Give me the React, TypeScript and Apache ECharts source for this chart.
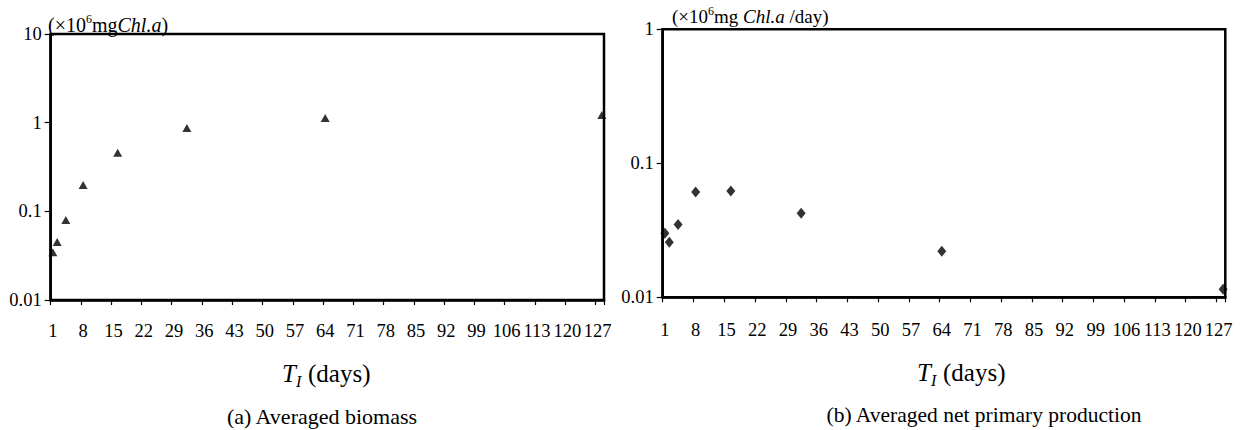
import React, { useEffect, useRef } from "react";
import * as echarts from "echarts";

// category labels 1..128 (days)
const categories: string[] = Array.from({ length: 128 }, (_, i) => String(i + 1));
const days: string[] = ["1", "2", "4", "8", "16", "32", "64", "128"];
const biomass: number[] = [0.0345, 0.045, 0.08, 0.198, 0.458, 0.87, 1.13, 1.22];
const npp: number[] = [0.030, 0.0257, 0.035, 0.061, 0.062, 0.0424, 0.0221, 0.0115];

const FONT = "Liberation Serif";

const logFmt = (v: number) => {
  const n = Math.round(Math.log10(v));
  return n >= 0 ? String(Math.pow(10, n)) : "0." + "0".repeat(-n - 1) + "1";
};

function xAxisCfg(gridIndex: number, margin: number) {
  return {
    type: "category",
    gridIndex,
    data: categories,
    boundaryGap: true,
    axisLine: { show: true, lineStyle: { color: "#000", width: 2.5 } },
    axisTick: { show: true, interval: 6, length: 5, lineStyle: { color: "#000", width: 1.2 } },
    axisLabel: {
      interval: 6,
      margin,
      color: "#000",
      fontFamily: FONT,
      fontSize: 18.5,
    },
    splitLine: { show: false },
  };
}

function yAxisCfg(gridIndex: number, max: number) {
  return {
    type: "log",
    logBase: 10,
    gridIndex,
    min: 0.01,
    max,
    axisLine: { show: true, lineStyle: { color: "#000", width: 2.5 } },
    axisTick: { show: true, length: 6, lineStyle: { color: "#000", width: 1.2 } },
    minorTick: { show: false },
    axisLabel: {
      margin: 9,
      color: "#000",
      fontFamily: FONT,
      fontSize: 18.5,
      formatter: logFmt,
    },
    splitLine: { show: false },
  };
}

export default function App() {
  const ref = useRef<HTMLDivElement>(null);
  useEffect(() => {
    document.body.style.margin = "0";
    const chart = echarts.init(ref.current!, null, { renderer: "svg" });
    const supRich = {
      n: { fontFamily: FONT, fontSize: 20, lineHeight: 22, verticalAlign: "bottom", color: "#000" },
      i: { fontFamily: FONT, fontSize: 20, lineHeight: 22, fontStyle: "italic", verticalAlign: "bottom", color: "#000" },
      s: { fontFamily: FONT, fontSize: 12, lineHeight: 12, verticalAlign: "top", color: "#000" },
    };
    const supRich2 = {
      n: { fontFamily: FONT, fontSize: 19, lineHeight: 21, verticalAlign: "bottom", color: "#000" },
      i: { fontFamily: FONT, fontSize: 19, lineHeight: 21, fontStyle: "italic", verticalAlign: "bottom", color: "#000" },
      s: { fontFamily: FONT, fontSize: 12, lineHeight: 12, verticalAlign: "top", color: "#000" },
    };
    const option: any = {
      animation: false,
      backgroundColor: "#fff",
      grid: [
        { left: 50.7, top: 34, width: 553.3, height: 266, show: true, borderColor: "#000", borderWidth: 2.5, backgroundColor: "transparent" },
        { left: 662.7, top: 29.3, width: 562.6, height: 268, show: true, borderColor: "#000", borderWidth: 2.5, backgroundColor: "transparent" },
      ],
      xAxis: [xAxisCfg(0, 21), xAxisCfg(1, 23)],
      yAxis: [yAxisCfg(0, 10), yAxisCfg(1, 1)],
      series: [
        {
          type: "scatter",
          xAxisIndex: 0,
          yAxisIndex: 0,
          symbol: "triangle",
          symbolSize: [9, 8],
          itemStyle: { color: "#000" },
          data: days.map((d, i) => [d, biomass[i]]),
        },
        {
          type: "scatter",
          xAxisIndex: 1,
          yAxisIndex: 1,
          symbol: "diamond",
          symbolSize: [9, 11],
          itemStyle: { color: "#000" },
          data: days.map((d, i) => [d, npp[i]]),
        },
      ],
      graphic: [
        {
          type: "text",
          left: 48,
          top: 13,
          style: {
            text: "{n|(×10}{s|6}{n|mg}{i|Chl.a}{n|)}",
            rich: supRich,
          },
        },
        {
          type: "text",
          left: 672,
          top: 5,
          style: {
            text: "{n|(×10}{s|6}{n|mg }{i|Chl.a}{n| /day)}",
            rich: supRich2,
          },
        },
        // left axis title
        { type: "text", x: 282, y: 373, style: { text: "T", fontFamily: FONT, fontSize: 25, fontStyle: "italic", fill: "#000", verticalAlign: "middle", align: "left" } },
        { type: "text", x: 296, y: 381, style: { text: "I", fontFamily: FONT, fontSize: 16, fontStyle: "italic", fill: "#000", verticalAlign: "middle", align: "left" } },
        { type: "text", x: 308, y: 373, style: { text: "(days)", fontFamily: FONT, fontSize: 25, fill: "#000", verticalAlign: "middle", align: "left" } },
        // right axis title
        { type: "text", x: 917, y: 372, style: { text: "T", fontFamily: FONT, fontSize: 25, fontStyle: "italic", fill: "#000", verticalAlign: "middle", align: "left" } },
        { type: "text", x: 931, y: 380, style: { text: "I", fontFamily: FONT, fontSize: 16, fontStyle: "italic", fill: "#000", verticalAlign: "middle", align: "left" } },
        { type: "text", x: 943, y: 372, style: { text: "(days)", fontFamily: FONT, fontSize: 25, fill: "#000", verticalAlign: "middle", align: "left" } },
        // captions
        { type: "text", x: 322, y: 416, style: { text: "(a) Averaged biomass", fontFamily: FONT, fontSize: 22, fill: "#000", verticalAlign: "middle", align: "center" } },
        { type: "text", x: 984, y: 415, style: { text: "(b) Averaged net primary production", fontFamily: FONT, fontSize: 21.5, fill: "#000", verticalAlign: "middle", align: "center" } },
      ],
    };
    chart.setOption(option);
    return () => chart.dispose();
  }, []);
  return <div ref={ref} style={{ width: 1246, height: 430 }} />;
}
